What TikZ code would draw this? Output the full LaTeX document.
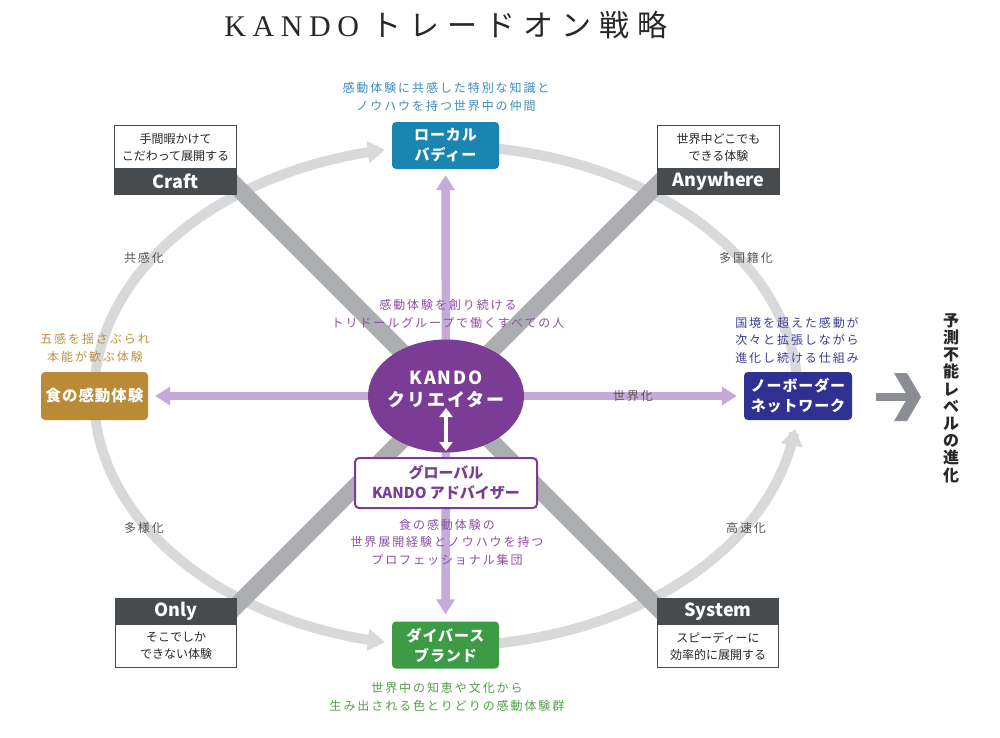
\documentclass[tikz,border=0pt]{standalone}
\usepackage{fontspec}
\setmainfont{Noto Sans CJK JP}
\newfontfamily\trk[LetterSpace=16]{Noto Sans CJK JP}
\newfontfamily\trkb[LetterSpace=6]{Noto Sans CJK JP}
\newfontfamily\trkk[LetterSpace=10]{Noto Sans CJK JP}
\newfontfamily\tlat[LetterSpace=22]{Liberation Serif}
\newfontfamily\tjp[LetterSpace=27]{Noto Sans CJK JP}
\usetikzlibrary{arrows.meta,shapes.geometric,calc}
\pgfdeclarelayer{bgL}\pgfdeclarelayer{ringL}\pgfdeclarelayer{bandL}\pgfdeclarelayer{arrL}
\pgfsetlayers{bgL,ringL,bandL,arrL,main}
\definecolor{cBuddy}{RGB}{26,133,176}
\definecolor{cNB}{RGB}{46,49,146}
\definecolor{cFood}{RGB}{185,139,54}
\definecolor{cDiv}{RGB}{61,154,69}
\definecolor{cKando}{RGB}{123,60,150}
\definecolor{cParr}{RGB}{196,171,217}
\definecolor{cDark}{RGB}{71,75,78}
\definecolor{cRing}{RGB}{216,217,219}
\definecolor{cBand}{RGB}{172,174,177}
\definecolor{cChev}{RGB}{138,141,145}
\definecolor{tBlue}{RGB}{60,140,190}
\definecolor{tGold}{RGB}{190,145,70}
\definecolor{tPurp}{RGB}{140,80,165}
\definecolor{tNavy}{RGB}{60,60,150}
\definecolor{tGreen}{RGB}{80,160,70}
\definecolor{tGray}{RGB}{85,85,85}
\definecolor{tText}{RGB}{40,40,40}
\begin{document}
\begin{tikzpicture}[x=1pt,y=-1pt,
  cbox/.style={rounded corners=4pt, minimum width=107pt, minimum height=47pt, inner sep=0pt,
    text=white, align=center, font=\fontsize{15}{20}\selectfont\bfseries\trkb},
  capw/.style={fill=white, minimum width=121pt, minimum height=42pt, inner sep=0pt,
    align=center, text=tText, font=\fontsize{12}{17}\selectfont},
  capd/.style={fill=cDark, minimum width=121pt, minimum height=26pt, inner sep=0pt,
    text=white, font=\fontsize{18}{18}\selectfont\bfseries},
  capborder/.style={draw=cDark, line width=1.2pt},
  desc/.style={align=center, inner sep=0pt, font=\fontsize{12}{17.5}\selectfont\trk},
  lab/.style={inner sep=0pt, text=tGray, font=\fontsize{12}{14}\selectfont\trk},
  ring/.style={draw=cRing, line width=10pt},
  ringarr/.style={ring, -{Triangle[length=17pt,width=21pt]}},
  band/.style={draw=cBand, line width=17pt},
  parr/.style={draw=cParr, line width=8.5pt, -{Triangle[length=15pt,width=18pt]}},
  warr/.style={draw=white, line width=3.5pt, {Triangle[length=9pt,width=13pt]}-{Triangle[length=9pt,width=13pt]}}
]
\useasboundingbox (0,0) rectangle (1000,737);
\begin{pgfonlayer}{bgL}
\fill[white] (0,0) rectangle (1000,737);
\end{pgfonlayer}

% title
\node[text=tText, inner sep=0pt] (title) at (446,25) {\fontsize{30}{30}\selectfont\tlat KANDO\hspace{12pt}\tjp トレードオン戦略};

% central ellipse and adviser
\node[ellipse, fill=cKando, minimum width=156pt, minimum height=113pt, inner sep=0pt] (kando) at (446,396) {};
\node[text=white, align=center, inner sep=0pt, font=\fontsize{18}{22}\selectfont\bfseries\trkk] (kandot) at (446,389) {KANDO\\クリエイター};
\node[draw=cKando, line width=2pt, fill=white, rounded corners=4pt, minimum width=182pt, minimum height=50pt,
  inner sep=0pt, text=cKando, align=center, font=\fontsize{15}{20}\selectfont\bfseries] (adviser) at (446,483) {グローバル\\KANDO アドバイザー};
\coordinate (wa) at (446,408);
\draw[warr, shorten >=6pt] (wa) -- (adviser.north);

% four colored boxes
\node[cbox, fill=cBuddy] (buddy) at (445.5,145.5) {ローカル\\バディー};
\node[cbox, fill=cNB, minimum width=108pt, minimum height=48pt] (nb) at (798,396) {ノーボーダー\\ネットワーク};
\node[cbox, fill=cFood, minimum height=48pt, font=\fontsize{15.5}{20}\selectfont\bfseries\trkb] (food) at (94.5,396) {食の感動体験};
\node[cbox, fill=cDiv] (div) at (445.5,645) {ダイバース\\ブランド};

% corner caption boxes
\node[capw] (craftd) at (175.5,147) {手間暇かけて\\こだわって展開する};
\node[capd, anchor=north] (craft) at (craftd.south) {Craft};
\draw[capborder] (craftd.north west) rectangle (craft.south east);
\draw[capborder] (craftd.south west) -- (craftd.south east);

\node[capw] (anyd) at (718.5,147) {世界中どこでも\\できる体験};
\node[capd, anchor=north] (any) at (anyd.south) {Anywhere};
\draw[capborder] (anyd.north west) rectangle (any.south east);

\node[capd] (only) at (176,611.5) {Only};
\node[capw, anchor=north] (onlyd) at (only.south) {そこでしか\\できない体験};
\draw[capborder] (only.north west) rectangle (onlyd.south east);

\node[capd] (sys) at (718,611.5) {System};
\node[capw, anchor=north] (sysd) at (sys.south) {スピーディーに\\効率的に展開する};
\draw[capborder] (sys.north west) rectangle (sysd.south east);

% descriptions
\node[desc, text=tBlue] (buddyd) at (446,97) {感動体験に共感した特別な知識と\\ノウハウを持つ世界中の仲間};
\node[desc, text=tGold] (foodd) at (95,348) {五感を揺さぶられ\\本能が歓ぶ体験};
\node[desc, text=tPurp] (kandod) at (448,314) {感動体験を創り続ける\\トリドールグループで働くすべての人};
\node[desc, text=tNavy] (nbd) at (797,340) {国境を超えた感動が\\次々と拡張しながら\\進化し続ける仕組み};
\node[desc, text=tPurp] (advd) at (447,542) {食の感動体験の\\世界展開経験とノウハウを持つ\\プロフェッショナル集団};
\node[desc, text=tGreen] (divd) at (447,697) {世界中の知恵や文化から\\生み出される色とりどりの感動体験群};

% ring labels
\node[lab] (l1) at (144,258) {共感化};
\node[lab] (l2) at (746,258) {多国籍化};
\node[lab] (l3) at (144,528) {多様化};
\node[lab] (l4) at (746,528) {高速化};
\node[lab] (l5) at (633,396) {世界化};

% right side
\node[align=center, inner sep=0pt, text=tText, font=\fontsize{16}{17.2}\selectfont\bfseries] (evo) at (951,398) {予\\測\\不\\能\\レ\\ベ\\ル\\の\\進\\化};
\fill[cChev] (876,393) rectangle (911,401);
\fill[cChev] (894,373) -- (907,373) -- (921,397) -- (907,421) -- (894,421) -- (908,397) -- cycle;

% ring arcs
\begin{pgfonlayer}{ringL}
\draw[ringarr] plot[domain=180:260, samples=80] ({446+352*cos(\x)},{396+250*sin(\x)});
\draw[ring] plot[domain=272:357, samples=80] ({446+352*cos(\x)},{396+250*sin(\x)});
\draw[ringarr] plot[domain=180:100, samples=80] ({446+352*cos(\x)},{396+250*sin(\x)});
\draw[ringarr] plot[domain=88:7.5, samples=80] ({446+352*cos(\x)},{396+250*sin(\x)});
\end{pgfonlayer}

% diagonal bands
\begin{pgfonlayer}{bandL}
\coordinate (b1s) at (206,156);
\coordinate (b1e) at (686,636);
\coordinate (b2s) at (686,156);
\coordinate (b2e) at (206,636);
\draw[band] (b1s) -- (b1e);
\draw[band] (b2s) -- (b2e);
\end{pgfonlayer}

% purple arrows
\begin{pgfonlayer}{arrL}
\draw[parr, shorten >=6pt] (kando.center) -- (buddy.south);
\draw[parr, shorten >=7pt] (kando.center) -- (food.east);
\draw[parr, shorten >=7pt] (kando.center) -- (nb.west);
\draw[parr, shorten >=7pt] (kando.center) -- (div.north);
\end{pgfonlayer}
\end{tikzpicture}
\end{document}
